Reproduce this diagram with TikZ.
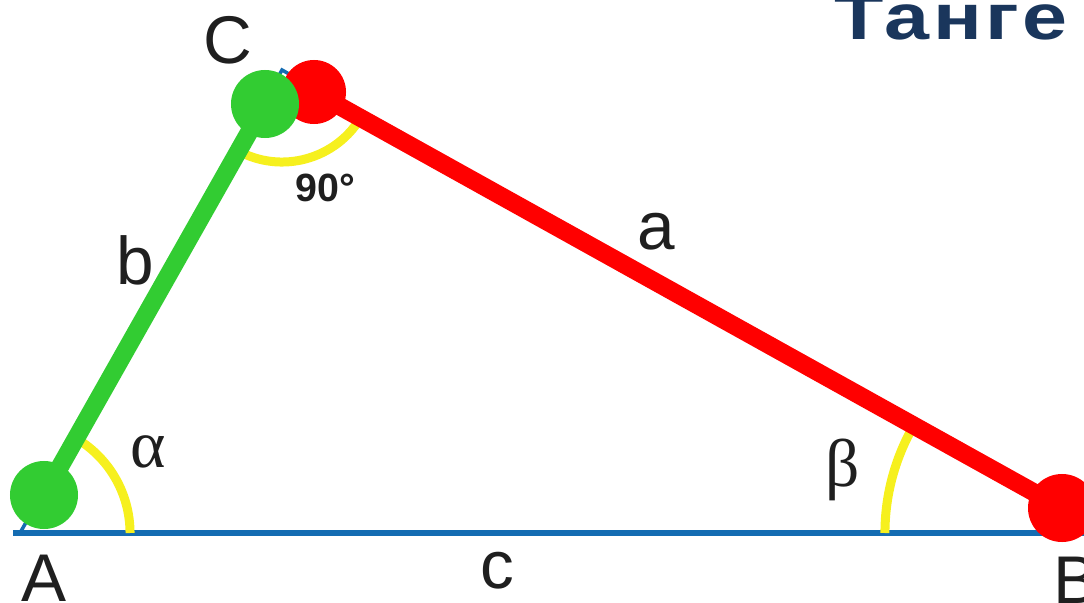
\documentclass[tikz,border=0pt]{standalone}
\usepackage{fontspec}
\setmainfont{Liberation Sans}
\newfontfamily\greekfont{Liberation Serif}
\newfontfamily\titlefont[LetterSpace=4]{Liberation Sans}

\definecolor{sideblue}{RGB}{20,108,178}
\definecolor{legred}{RGB}{255,0,0}
\definecolor{leggreen}{RGB}{50,204,50}
\definecolor{arcyellow}{RGB}{246,240,30}
\definecolor{titleblue}{RGB}{26,54,92}

\tikzset{
  side/.style={sideblue,line width=2.5pt},
  anglearc/.style={arcyellow,line width=6.4pt},
  leg/.style={line width=12.8pt},
  dot/.style={circle,inner sep=0pt,minimum size=1.7cm},
  lbl/.style={font=\fontsize{48}{50}\selectfont,inner sep=0pt,text=black!88},
  greeklbl/.style={font=\greekfont\fontsize{48}{50}\selectfont,inner sep=0pt,text=black!88},
}

\begin{document}
\begin{tikzpicture}[x=0.025cm,y=-0.025cm]
\useasboundingbox (0,0) rectangle (1084,603);

% vertices of the triangle
\coordinate (A) at (20,533);
\coordinate (B) at (1100,533);
\coordinate (C) at (282,70);
% centres of the dots
\coordinate (pA) at (44,495);
\coordinate (pC) at (265,104);
\coordinate (qC) at (314,92);
\coordinate (qB) at (1062,508);

% blue sides
\draw[side] (A) -- (C) -- (B);
\draw[sideblue,line width=4.3pt] (13,533) -- (B);

% angle marks
\draw[anglearc] ([shift={(0:2.75cm)}]A) arc[start angle=0,end angle=60.5,radius=2.75cm];
\draw[anglearc] ([shift={(240.5:2.3cm)}]C) arc[start angle=240.5,end angle=330.5,radius=2.3cm];
\draw[anglearc] ([shift={(150.5:5.375cm)}]B) arc[start angle=150.5,end angle=180,radius=5.375cm];

% legs a and b
\draw[leg,legred] (qC) -- (qB);
\node[dot,fill=legred,minimum size=1.6cm] (dotCa) at (qC) {};
\node[dot,fill=legred] (dotB) at (qB) {};
\draw[leg,leggreen] (pA) -- (pC);
\node[dot,fill=leggreen] (dotA) at (pA) {};
\node[dot,fill=leggreen] (dotCb) at (pC) {};

% labels
\node[lbl] (labC) at (228,40) {C};
\node[lbl] (labA) at (44,578) {A};
\node[lbl] (labB) at (1076,580) {B};
\node[lbl] (labc) at (497,571) {c};
\node[lbl] (laba) at (656,232) {a};
\node[lbl] (labb) at (135,260) {b};
\node[greeklbl] (alpha) at (148,452) {α};
\node[greeklbl] (beta) at (843,470) {β};
\node[font=\bfseries\fontsize{28}{30}\selectfont,inner sep=0pt,text=black!88] (right) at (325,188) {90°};

% title
\node[font=\titlefont\bfseries\fontsize{46}{48}\selectfont,text=titleblue,anchor=base west,inner sep=0pt,xscale=1.25,transform shape] (title) at (834,40) {Танге};

\end{tikzpicture}
\end{document}
